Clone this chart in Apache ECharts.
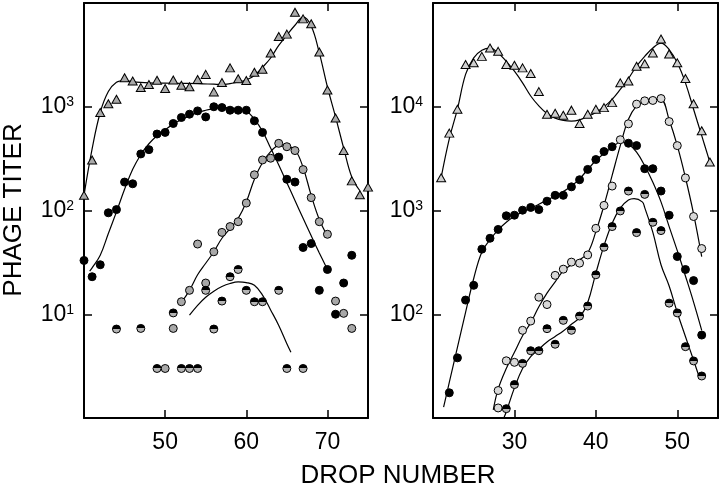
<!DOCTYPE html>
<html>
<head>
<meta charset="utf-8">
<script src="https://cdn.jsdelivr.net/npm/echarts@6/dist/echarts.min.js"></script>
<style>
  html, body { margin: 0; padding: 0; background: #fff; }
  #chart { width: 720px; height: 488px; }
</style>
</head>
<body>
<div id="chart"></div>
<script>
// ---- left panel, [drop number, phage titer] ----
var leftTri = [[40,140],[41,307],[42,880],[43,1070],[44,1180],[45,1900],[46,1770],[47,1530],[48,1640],[49,1800],
  [50,1500],[51,1810],[52,1610],[53,1560],[54,1830],[55,2050],[56,1390],[57,1710],[58,2370],[59,1860],[60,1790],
  [61,2150],[62,2300],[63,3300],[64,4760],[65,5010],[66,8150],[67,7030],[68,6300],[69,3370],[70,1450],[71,780],
  [72,378],[73,193],[74,142],[75,168]];
var leftTriFit = [[40,140],[41,392],[42,880],[43,1400],[44,1720],[45,1790],[46,1740],[48,1700],[50,1690],[52,1680],
  [54,1670],[56,1650],[57,1640],[58,1670],[59,1730],[60,1810],[61,2000],[62,2400],[63,2950],[64,3900],[65,4900],
  [66,6100],[67,7300],[68,6000],[69,3300],[70,1550],[71,800],[72,400],[73,210],[74,155]];

var leftBlack = [[40,33],[41,23],[42,30],[43,95],[44,102],[45,188],[46,181],[47,351],[48,386],[49,546],[50,566],
  [51,690],[52,788],[53,848],[54,912],[55,798],[56,1000],[57,982],[58,926],[59,926],[60,926],[61,731],[62,566],
  [64,327],[65,200],[66,188],[67,44],[68,48],[69,17],[70,27],[71,10],[72,20],[73,37]];
var leftBlackFit = [[40.7,26],[41,28],[42,37],[43,60],[44,97],[45,160],[46,250],[47,345],[48,440],[49,525],[50,600],
  [51,680],[52,750],[53,815],[54,880],[55,925],[56,960],[57,985],[58,975],[59,950],[60,912],[61,760],[62,580],
  [63,400],[64,275],[65,185],[66,125],[67,84],[68,57],[69,39],[70,27]];

var leftGrey = [[50,3.0],[51,7.3],[52,13.2],[53,17],[54,47.5],[55,20],[56,40],[57,61.5],[58,70],[59,78],[60,118],
  [61,221],[62,307],[63,319],[64,444],[65,412],[66,378],[67,248],[68,133],[69,78],[70,59],[71,13.4],[72,10.2],[73,7.3]];
var leftGreyFit = [[52,13],[53,17],[54,24],[55,31],[56,40],[57,54],[58,67],[59,84],[60,121],[61,200],[62,290],
  [63,370],[64,420],[65,415],[66,385],[67,260],[68,140],[69,82],[70,57]];

var leftHalf = [[44,7.2],[47,7.3],[49,3.0],[51,10.3],[52,3.0],[53,3.0],[54,3.0],[55,17],[56,7.2],[57,13.4],[58,23],
  [59,27],[60,17],[61,13.2],[62,13.2],[64,17],[65,3.0],[67,3.0]];
var leftHalfFit = [[53,9.8],[54,12.2],[55,14.6],[56,16.7],[57,18.5],[58,19.8],[59,20.5],[60,20.2],[61,19],[62,15.3],
  [63,11],[64,7.8],[65,5.2],[65.5,4.3]];

// ---- right panel ----
var rightTri = [[21,2070],[22,5570],[23,9460],[24,25500],[25,26500],[26,30600],[27,36800],[28,34200],[29,25500],
  [30,25100],[31,23700],[32,20900],[33,14000],[34,8470],[35,8670],[36,8290],[37,9270],[38,6900],[39,8470],[40,9460],
  [41,9810],[42,10960],[43,17000],[44,17700],[45,24600],[46,26000],[47,33000],[48,44900],[49,32300],[50,26500],
  [51,18700],[52,10700],[53,5860],[54,2930]];
var rightTriFit = [[21,2070],[22,4900],[23,9500],[24,20500],[25,29600],[26,35000],[27,36800],[28,33000],[29,27400],
  [30,22000],[31,17000],[32,12700],[33,10200],[34,8610],[35,7770],[36,7380],[37,7260],[38,7480],[39,8060],[40,8790],
  [41,10000],[42,11800],[43,14700],[44,18700],[45,24600],[46,30600],[47,36800],[48,41100],[49,35500],[50,26500],
  [51,17000],[52,9460],[53,5260],[54,2930]];

var rightBlack = [[22,17.5],[23,38],[24,137],[25,190],[26,424],[27,540],[28,657],[29,889],[30,901],[31,1007],
  [32,1070],[33,1020],[34,1230],[35,1400],[36,1400],[37,1690],[38,1980],[39,2490],[40,3100],[41,3700],[42,4120],
  [44,4450],[45,4220],[46,2530],[47,2530],[48,1540],[49,900],[50,360],[51,270],[52,211],[53,63]];
var rightBlackFit = [[21.3,12.7],[22,22],[23,48],[24,104],[25,221],[26,399],[27,522],[28,650],[29,770],[30,880],
  [31,970],[32,1050],[33,1150],[34,1260],[35,1380],[36,1520],[37,1720],[38,2020],[39,2480],[40,3030],[41,3550],
  [42,4050],[43,4550],[44,4350],[45,3650],[46,2700],[47,1870],[48,1210],[49,700],[50,410],[51,234],[52,131],[53,70]];

var rightGrey = [[28,12.5],[28,18.4],[29,35.6],[30,34.4],[31,70],[32,86],[33,146],[34,124],[35,237],[36,272],
  [37,318],[38,311],[39,373],[40,673],[41,1120],[42,1720],[43,4810],[44,6850],[45,10600],[46,11400],[47,11500],
  [48,12000],[49,7200],[50,4220],[51,2060],[52,875],[53,430]];
var rightGreyFit = [[27.4,12],[28,19],[29,30],[30,43],[31,62],[32,83],[33,118],[34,160],[35,205],[36,262],[37,300],
  [38,335],[39,390],[40,625],[41,1120],[42,2180],[43,4220],[44,7580],[45,10200],[46,11400],[47,11900],[48,11800],
  [49,7500],[50,4220],[51,2080],[52,930],[53,360]];

var rightHalf = [[29,12.3],[30,21],[31,33.6],[32,44.5],[33,44.5],[34,72.6],[35,51.4],[36,87.3],[37,70],[38,96],
  [39,120],[40,240],[41,443],[42,700],[43,990],[44,1540],[45,612],[46,1430],[47,770],[48,640],[49,128],[50,103],
  [51,48.7],[52,35.5],[53,25.4]];
var rightHalfFit = [[28.7,10],[29,11.5],[30,19.5],[31,30],[32,39],[33,46],[34,54],[35,61],[36,69],[37,80],[38,93],
  [39,130],[40,249],[41,458],[42,755],[43,1055],[44,1260],[44.7,1300],[45.7,1210],[46,1065],[47,615],[48,300],
  [49,187],[50,104],[51,61],[52,36],[52.7,24.7]];

var leftDropRange = [40, 75];
var rightDropRange = [20, 55];
var leftTiterRange = [1, 10000];
var rightTiterRange = [10, 100000];

var FONT = '"Liberation Sans", Arial, Helvetica, sans-serif';

function dropAxis(grid, range, pos, labels) {
  return {
    type: 'value', gridIndex: grid, position: pos, min: range[0], max: range[1], interval: 10,
    axisLine: { show: true, onZero: false, lineStyle: { color: '#000', width: 2 } },
    axisTick: { show: true, inside: true, length: 8, lineStyle: { color: '#000', width: 1.5 } },
    axisLabel: { show: labels, showMinLabel: false, showMaxLabel: false, margin: 13,
      color: '#000', fontSize: 23, fontFamily: FONT },
    splitLine: { show: false }
  };
}
function titerAxis(grid, range, pos, labels) {
  return {
    type: 'log', logBase: 10, gridIndex: grid, position: pos, min: range[0], max: range[1],
    axisLine: { show: true, onZero: false, lineStyle: { color: '#000', width: 2 } },
    axisTick: { show: true, inside: true, length: 8, lineStyle: { color: '#000', width: 1.5 } },
    axisLabel: {
      show: labels, showMinLabel: false, showMaxLabel: false, margin: 10,
      formatter: function (v) { return '{b|10}{s|' + Math.round(Math.log10(v)) + '}'; },
      rich: {
        b: { fontSize: 23, color: '#000', fontFamily: FONT },
        s: { fontSize: 14, color: '#000', fontFamily: FONT, verticalAlign: 'top' }
      }
    },
    splitLine: { show: false }
  };
}
function fit(data, ax) {
  return { type: 'line', xAxisIndex: ax, yAxisIndex: ax, data: data, smooth: 0.4, symbol: 'none',
    lineStyle: { color: '#000', width: 1.2 }, z: 2, silent: true };
}
function dots(data, ax, symbol, size, color) {
  return { type: 'scatter', xAxisIndex: ax, yAxisIndex: ax, data: data, symbol: symbol, symbolSize: size,
    itemStyle: { color: color, borderColor: '#000', borderWidth: 1, opacity: 1 }, z: 3, silent: true };
}
var halfFill = new echarts.graphic.LinearGradient(0, 0, 0, 1, [
  { offset: 0, color: '#000' }, { offset: 0.5, color: '#000' },
  { offset: 0.5, color: '#b4b4b4' }, { offset: 1, color: '#b4b4b4' }
]);

var chart = echarts.init(document.getElementById('chart'));
chart.setOption({
  animation: false,
  backgroundColor: '#fff',
  grid: [
    { left: 84, top: 3, width: 284, height: 415 },
    { left: 433, top: 3, width: 285, height: 415 }
  ],
  xAxis: [
    dropAxis(0, leftDropRange, 'bottom', true),
    dropAxis(0, leftDropRange, 'top', false),
    dropAxis(1, rightDropRange, 'bottom', true),
    dropAxis(1, rightDropRange, 'top', false)
  ],
  yAxis: [
    titerAxis(0, leftTiterRange, 'left', true),
    titerAxis(0, leftTiterRange, 'right', false),
    titerAxis(1, rightTiterRange, 'left', true),
    titerAxis(1, rightTiterRange, 'right', false)
  ],
  graphic: [
    { type: 'text', x: 14, y: 210, rotation: Math.PI / 2,
      style: { text: 'PHAGE TITER', fill: '#000', fontSize: 26, fontFamily: FONT, align: 'center', verticalAlign: 'middle' } },
    { type: 'text', x: 398, y: 476,
      style: { text: 'DROP NUMBER', fill: '#000', fontSize: 26, fontFamily: FONT, align: 'center', verticalAlign: 'middle' } }
  ],
  series: [
    fit(leftTriFit, 0), fit(leftBlackFit, 0), fit(leftGreyFit, 0), fit(leftHalfFit, 0),
    dots(leftTri, 0, 'triangle', [9, 8], '#aaaaaa'),
    dots(leftBlack, 0, 'circle', 8, '#000'),
    dots(leftGrey, 0, 'circle', 8, '#a8a8a8'),
    dots(leftHalf, 0, 'circle', 8, halfFill),
    fit(rightTriFit, 2), fit(rightBlackFit, 2), fit(rightGreyFit, 2), fit(rightHalfFit, 2),
    dots(rightTri, 2, 'triangle', [9, 8], '#cfcfcf'),
    dots(rightBlack, 2, 'circle', 8, '#000'),
    dots(rightGrey, 2, 'circle', 8, '#d8d8d8'),
    dots(rightHalf, 2, 'circle', 8, halfFill)
  ]
});
</script>
</body>
</html>
